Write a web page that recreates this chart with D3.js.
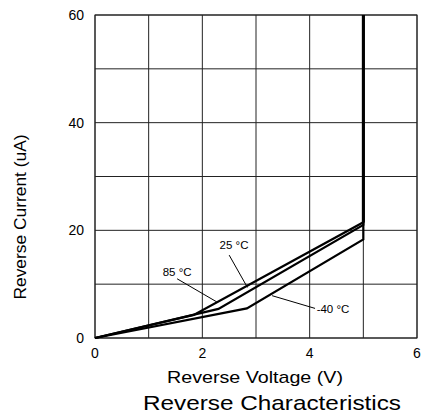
<!DOCTYPE html>
<html>
<head>
<meta charset="utf-8">
<script src="https://d3js.org/d3.v7.min.js"></script>
<style>
  body { margin: 0; background: #fff; }
  text { font-family: "Liberation Sans", Arial, sans-serif; fill: #000; }
</style>
</head>
<body>
<script>
var width = 422, height = 416;
var margin = { left: 95, right: 5, top: 15, bottom: 78 };

// data
var xTicks = [0, 2, 4, 6];
var yTicks = [0, 20, 40, 60];
var series = ["85 °C", "25 °C", "-40 °C"];
var voltage85 = [0, 1.84, 5.0, 5.0];
var current85 = [0, 4.3, 21.5, 60];
var voltage25 = [0, 2.3, 5.0, 5.0];
var current25 = [0, 5.4, 21.0, 60];
var voltageM40 = [0, 2.83, 5.0, 5.0];
var currentM40 = [0, 5.5, 18.3, 60];
// label anchor and leader line ends, in data units
var labelX = [1.53, 2.59, 4.13];
var labelY = [12.3, 17.3, 4.6];
var leaderFrom = [[1.53, 11.0], [2.50, 15.4], [4.10, 5.5]];
var leaderTo = [[2.27, 6.7], [2.84, 9.4], [3.30, 7.86]];

var svg = d3.select("body").append("svg").attr("width", width).attr("height", height);

var x = d3.scaleLinear().domain([0, 6]).range([margin.left, width - margin.right]);
var y = d3.scaleLinear().domain([0, 60]).range([height - margin.bottom, margin.top]);

// grid
svg.append("g").selectAll("line").data(d3.range(0, 7)).enter().append("line")
  .attr("x1", d => x(d)).attr("x2", d => x(d))
  .attr("y1", y(0)).attr("y2", y(60))
  .attr("stroke", "#222").attr("stroke-width", 1);
svg.append("g").selectAll("line").data(d3.range(0, 70, 10)).enter().append("line")
  .attr("x1", x(0)).attr("x2", x(6))
  .attr("y1", d => y(d)).attr("y2", d => y(d))
  .attr("stroke", "#222").attr("stroke-width", 1);

svg.append("rect")
  .attr("x", x(0)).attr("y", y(60))
  .attr("width", x(6) - x(0)).attr("height", y(0) - y(60))
  .attr("fill", "none").attr("stroke", "#222").attr("stroke-width", 1);

// tick labels
svg.append("g").selectAll("text").data(xTicks).enter().append("text")
  .attr("x", d => x(d)).attr("y", y(0) + 20)
  .attr("text-anchor", "middle").attr("font-size", 14)
  .text(d => d);
svg.append("g").selectAll("text").data(yTicks).enter().append("text")
  .attr("x", x(0) - 11).attr("y", d => y(d) + 5)
  .attr("text-anchor", "end").attr("font-size", 14)
  .text(d => d);

// curves
var line = d3.line().x(d => x(d[0])).y(d => y(d[1]));
var curves = [
  d3.zip(voltage85, current85),
  d3.zip(voltage25, current25),
  d3.zip(voltageM40, currentM40)
];
svg.append("g").selectAll("path").data(curves).enter().append("path")
  .attr("d", line)
  .attr("fill", "none").attr("stroke", "#000")
  .attr("stroke-width", 2.2).attr("stroke-linejoin", "miter");

// thick breakdown line
svg.append("line")
  .attr("x1", x(5)).attr("x2", x(5))
  .attr("y1", y(21.5)).attr("y2", y(60))
  .attr("stroke", "#000").attr("stroke-width", 3);

// annotations
svg.append("g").selectAll("line").data(leaderFrom).enter().append("line")
  .attr("x1", d => x(d[0])).attr("y1", d => y(d[1]))
  .attr("x2", (d, i) => x(leaderTo[i][0])).attr("y2", (d, i) => y(leaderTo[i][1]))
  .attr("stroke", "#000").attr("stroke-width", 1);
svg.append("g").selectAll("text").data(series).enter().append("text")
  .attr("x", (d, i) => x(labelX[i]))
  .attr("y", (d, i) => y(labelY[i]))
  .attr("text-anchor", (d, i) => i == 2 ? "start" : "middle")
  .attr("dy", (d, i) => i == 2 ? 0 : "0.35em")
  .attr("font-size", 11.5)
  .text(d => d);

// axis titles
svg.append("text")
  .attr("x", 255).attr("y", 383)
  .attr("text-anchor", "middle").attr("font-size", 17)
  .attr("textLength", 176).attr("lengthAdjust", "spacingAndGlyphs")
  .text("Reverse Voltage (V)");
svg.append("text")
  .attr("transform", "translate(26,217) rotate(-90)")
  .attr("text-anchor", "middle").attr("font-size", 17)
  .attr("textLength", 165).attr("lengthAdjust", "spacingAndGlyphs")
  .text("Reverse Current (uA)");
svg.append("text")
  .attr("x", 272).attr("y", 410)
  .attr("text-anchor", "middle").attr("font-size", 21)
  .attr("textLength", 258).attr("lengthAdjust", "spacingAndGlyphs")
  .text("Reverse Characteristics");
</script>
</body>
</html>
